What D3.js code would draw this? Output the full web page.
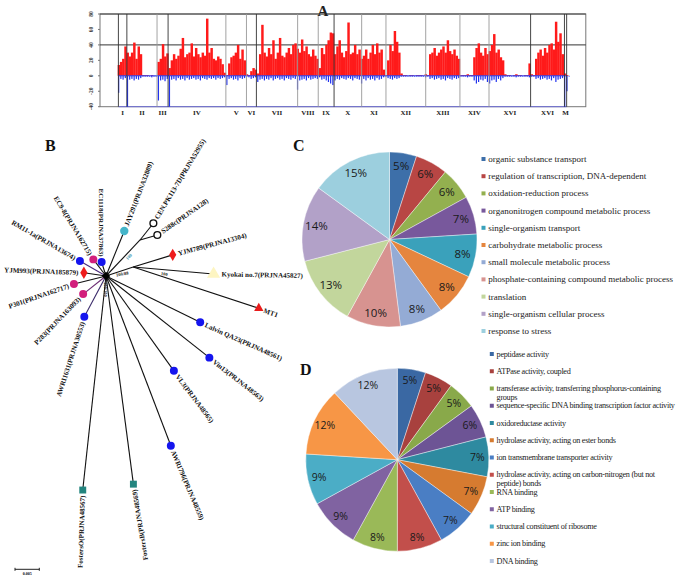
<!DOCTYPE html>
<html><head><meta charset="utf-8">
<script src="https://cdn.jsdelivr.net/npm/d3@7"></script>
<style>body{margin:0;background:#fff}svg{display:block}</style>
</head><body><svg id="c" width="685" height="577"></svg>
<script>
// ---------------- Panel A data ----------------
const chromNames = ["I","II","III","IV","V","VI","VII","VIII","IX","X","XI","XII","XIII","XIV","XVI","XVI","M"];
const chromBounds = [8.33,12.17,25.83,30.83,57,66.33,70.83,89.5,98.83,106,118.5,129.5,147.5,163,176.17,195,210.33,211.33];
const yTicks = [80,60,40,20,0,-20,-40];
const redValues = [
0,0,0,0,0,0,0,0,14,18,22,38,30,25,30,43,22,38,28,1,
1,1,0,1,0,0,18,22,41,25,29,10,20,28,22,26,35,49,24,28,
30,42,25,36,28,24,30,26,74,30,36,22,20,25,22,15,4,1,16,24,
26,30,40,22,34,20,2,1,6,10,8,3,28,66,30,25,36,28,46,22,
30,49,26,24,30,36,28,40,42,35,30,47,32,38,28,25,34,26,22,10,
36,28,40,46,56,55,28,38,46,30,24,32,69,28,30,40,28,34,22,26,
34,22,30,40,28,42,30,34,8,1,20,40,32,58,44,30,3,1,1,0,
1,1,0,1,1,1,0,2,1,28,30,36,26,30,34,38,30,46,32,28,
34,26,22,1,1,1,2,1,1,24,36,42,30,26,36,28,32,40,54,30,
34,24,20,2,1,1,0,1,2,1,1,0,1,1,16,2,1,22,30,34,
26,36,30,40,42,34,70,44,55,28,3,1,0,0,0,0,0,0,0,0];
const blueValues = [
0,0,0,0,0,0,0,0,-22,-4,-5,-3,-40,-5,-4,-6,-4,-5,-3,-1,
-1,-1,-1,-2,-1,-1,-32,-6,-5,-7,-4,-40,-5,-4,-6,-3,-5,-4,-6,-3,
-5,-4,-3,-5,-4,-6,-3,-4,-5,-3,-4,-3,-5,-3,-4,-3,-2,-12,-4,-3,
-5,-4,-6,-3,-4,-3,-1,-2,-4,-3,-2,-8,-5,-4,-6,-4,-5,-3,-6,-4,
-3,-5,-4,-6,-3,-4,-5,-3,-4,-18,-6,-5,-4,-6,-3,-5,-4,-3,-4,-2,
-5,-4,-6,-8,-10,-12,-6,-4,-5,-3,-4,-5,-3,-4,-6,-3,-4,-5,-10,-4,
-6,-3,-5,-4,-6,-3,-5,-4,-2,-1,-3,-4,-5,-3,-4,-3,-1,-1,-1,-1,
-1,-1,-1,-1,-1,-1,-1,-2,-1,-4,-3,-5,-4,-3,-5,-4,-6,-3,-4,-5,
-3,-4,-3,-1,-1,-1,-2,-1,-1,-6,-10,-8,-5,-6,-4,-8,-10,-6,-5,-8,
-4,-6,-3,-1,-1,-1,-1,-1,-2,-1,-1,-1,-1,-1,-2,-1,-1,-4,-3,-5,
-4,-3,-5,-4,-6,-3,-8,-5,-4,-3,-40,-20,-1,0,0,0,0,0,0,0];

// ---------------- Panel B data (tree) ----------------
// branch angle (deg, screen), branch length (substitutions/site)
const treeInternal = [
  {id:"root", parent:null, angle:0, len:0},
  {id:"nCS", parent:"root", angle:-46.6, len:0.0102},
  {id:"nK", parent:"root", angle:-18.4, len:0.0059}
];
const treeLeaves = [
  {name:"JAY291(PRJNA32809)", parent:"root", angle:-67.9, len:0.0100, group:"bioethanol"},
  {name:"CEN.PK113-7D(PRJNA52955)", parent:"nCS", angle:-51.5, len:0.0044, group:"lab"},
  {name:"S288c(PRJNA128)", parent:"nCS", angle:-16.1, len:0.0037, group:"lab"},
  {name:"YJM789(PRJNA13304)", parent:"nK", angle:-17, len:0.0085, group:"clinical"},
  {name:"Kyokai no.7(PRJNA45827)", parent:"nK", angle:5, len:0.0166, group:"sake"},
  {name:"MT1", parent:"nK", angle:18.2, len:0.0272, group:"mt1"},
  {name:"Lalvin QA23(PRJNA48561)", parent:"root", angle:26.2, len:0.0216, group:"wine"},
  {name:"Vin13(PRJNA48563)", parent:"root", angle:38.3, len:0.0271, group:"wine"},
  {name:"VL3(PRJNA48565)", parent:"root", angle:54.4, len:0.0240, group:"wine"},
  {name:"AWRI796(PRJNA48559)", parent:"root", angle:69.1, len:0.0374, group:"wine"},
  {name:"FostersB(PRJNA48569)", parent:"root", angle:82.5, len:0.0432, group:"beer"},
  {name:"FostersO(PRJNA48567)", parent:"root", angle:96.2, len:0.0443, group:"beer"},
  {name:"AWRI1631(PRJNA30553)", parent:"root", angle:118, len:0.0095, group:"wine"},
  {name:"P283(PRJNA163093)", parent:"root", angle:141.6, len:0.0060, group:"other"},
  {name:"P301(PRJNA162717)", parent:"root", angle:166, len:0.0068, group:"other"},
  {name:"YJM993(PRJNA185879)", parent:"root", angle:188.5, len:0.0046, group:"clinical"},
  {name:"RM11-1a(PRJNA13674)", parent:"root", angle:210, len:0.0062, group:"wine"},
  {name:"EC9-8(PRJNA162715)", parent:"root", angle:232.7, len:0.0043, group:"other"},
  {name:"EC1118(PRJNA37863)", parent:"root", angle:252.6, len:0.0030, group:"wine"}
];
const scaleBarValue = 0.005;

// ---------------- Panel C data ----------------
const bpCategories = ["organic substance transport","regulation of transcription, DNA-dependent","oxidation-reduction process","organonitrogen compound metabolic process","single-organism transport","carbohydrate metabolic process","small molecule metabolic process","phosphate-containing compound metabolic process","translation","single-organism cellular process","response to stress"];
const bpValues = [5,6,6,7,8,8,8,10,13,14,15];

// ---------------- Panel D data ----------------
const mfCategories = [["peptidase activity"],["ATPase activity, coupled"],["transferase activity, transferring phosphorus-containing","groups"],["sequence-specific DNA binding transcription factor activity"],["oxidoreductase activity"],["hydrolase activity, acting on ester bonds"],["ion transmembrane transporter activity"],["hydrolase activity, acting on carbon-nitrogen (but not","peptide) bonds"],["RNA binding"],["ATP binding"],["structural constituent of ribosome"],["zinc ion binding"],["DNA binding"]];
const mfValues = [5,5,5,6,7,7,7,8,8,9,9,12,12];

// =====================================================
const svg = d3.select("#c");
svg.append("rect").attr("width",685).attr("height",577).attr("fill","#fff");
const serif = "'Liberation Serif','Times New Roman',serif";
const sans = "'Open Sans','Liberation Sans',sans-serif";

// ---------- Panel A ----------
(function(){
  const g = svg.append("g");
  const x = d3.scaleLinear().domain([0,220]).range([100,585.8]);
  const y = d3.scaleLinear().domain([-40,80]).range([106.7,14]);
  const bw = x(1)-x(0);
  g.append("rect").attr("x",x(0)).attr("y",y(80)).attr("width",x(220)-x(0)).attr("height",y(-40)-y(80))
    .attr("fill","none").attr("stroke","#777").attr("stroke-width",1);
  g.append("line").attr("x1",x(0)).attr("x2",x(220)).attr("y1",y(40)).attr("y2",y(40)).attr("stroke","#333").attr("stroke-width",1);
  g.append("line").attr("x1",x(0)).attr("x2",x(220)).attr("y1",y(80)).attr("y2",y(80)).attr("stroke","#444").attr("stroke-width",1);
  g.append("line").attr("x1",x(chromBounds[0])).attr("x2",x(chromBounds[chromBounds.length-1])).attr("y1",y(-40)).attr("y2",y(-40)).attr("stroke","#6f6fd8").attr("stroke-width",1);
  const red = g.append("g");
  redValues.forEach((v,i)=>{ if(v>0) red.append("rect").attr("x",x(i)).attr("width",bw+0.25).attr("y",y(v)).attr("height",y(0)-y(v)).attr("fill","#ff1a1a"); });
  const blue = g.append("g");
  blueValues.forEach((v,i)=>{ if(v<0) blue.append("rect").attr("x",x(i)+0.4).attr("width",Math.max(0.8,bw-1)).attr("y",y(0)).attr("height",y(v)-y(0)).attr("fill","#2233ee"); });
  g.append("line").attr("x1",x(chromBounds[0])).attr("x2",x(chromBounds[chromBounds.length-1])).attr("y1",y(0)).attr("y2",y(0)).attr("stroke","#2a3ae8").attr("stroke-width",1);
  const dark = new Set([0,1,3,6,9,15,16,17]);
  g.append("g").selectAll("line").data(chromBounds).join("line")
    .attr("x1",d=>x(d)).attr("x2",d=>x(d)).attr("y1",y(80)).attr("y2",y(-40))
    .attr("stroke",(d,i)=>dark.has(i)?"#333":"#9a9a9a").attr("stroke-width",1).attr("opacity",0.9);
  g.append("g").selectAll("text").data(chromNames).join("text")
    .attr("x",(d,i)=>x((chromBounds[i]+chromBounds[i+1])/2)).attr("y",114.5)
    .attr("text-anchor","middle").attr("font-family",serif).attr("font-weight","bold").attr("font-size",7).attr("fill","#222")
    .text(d=>d);
  g.append("g").selectAll("text").data(yTicks).join("text")
    .attr("transform",d=>`translate(93,${y(d)}) rotate(-90)`).attr("text-anchor","middle")
    .attr("font-family",serif).attr("font-weight","bold").attr("font-size",5.5).attr("fill","#333").text(d=>d);
  g.append("g").selectAll("line").data(yTicks).join("line")
    .attr("x1",x(0)-2).attr("x2",x(0)).attr("y1",d=>y(d)).attr("y2",d=>y(d)).attr("stroke","#777");
  svg.append("text").attr("x",323).attr("y",16).attr("text-anchor","middle").attr("font-family",serif)
    .attr("font-weight","bold").attr("font-size",15).attr("fill","#222").text("A");
})();

// ---------- Panel B ----------
(function(){
  const g = svg.append("g");
  const len = d3.scaleLinear().domain([0,scaleBarValue]).range([0,24.3]);
  const pos = {root:[106,276]};
  const rad = a=>a*Math.PI/180;
  treeInternal.forEach(n=>{ if(n.parent){ const p=pos[n.parent]; pos[n.id]=[p[0]+len(n.len)*Math.cos(rad(n.angle)), p[1]+len(n.len)*Math.sin(rad(n.angle))]; }});
  treeLeaves.forEach(n=>{ const p=pos[n.parent]; n.x=p[0]+len(n.len)*Math.cos(rad(n.angle)); n.y=p[1]+len(n.len)*Math.sin(rad(n.angle)); n.px=p[0]; n.py=p[1]; });
  const branchColor = {"RM11-1a(PRJNA13674)":"#4a2a7a","P283(PRJNA163093)":"#6a2a70","AWRI1631(PRJNA30553)":"#3a2a6a"};
  treeInternal.filter(n=>n.parent).forEach(n=>{
    g.append("line").attr("x1",pos[n.parent][0]).attr("y1",pos[n.parent][1]).attr("x2",pos[n.id][0]).attr("y2",pos[n.id][1]).attr("stroke","#111").attr("stroke-width",1.1);
  });
  g.selectAll("line.leaf").data(treeLeaves).join("line").attr("class","leaf")
    .attr("x1",d=>d.px).attr("y1",d=>d.py).attr("x2",d=>d.x).attr("y2",d=>d.y)
    .attr("stroke",d=>branchColor[d.name]||"#111").attr("stroke-width",1.1);
  g.append("rect").attr("x",pos.root[0]-3).attr("y",pos.root[1]-3).attr("width",6).attr("height",6).attr("fill","#000").attr("transform",`rotate(45,${pos.root[0]},${pos.root[1]})`);
  const style = {
    bioethanol:{shape:d3.symbolCircle,size:55,fill:"#45b5c9",stroke:"none"},
    lab:{shape:d3.symbolCircle,size:36,fill:"#fff",stroke:"#111"},
    clinical:{shape:d3.symbolDiamond,size:45,fill:"#ee1c1c",stroke:"none"},
    sake:{shape:d3.symbolTriangle,size:75,fill:"#fdf5c2",stroke:"none"},
    mt1:{shape:d3.symbolTriangle,size:38,fill:"#e81b1b",stroke:"none"},
    wine:{shape:d3.symbolCircle,size:50,fill:"#1515ee",stroke:"none"},
    beer:{shape:d3.symbolSquare,size:48,fill:"#23857f",stroke:"none"},
    other:{shape:d3.symbolCircle,size:50,fill:"#d21f7c",stroke:"none"}
  };
  g.selectAll("path.mk").data(treeLeaves).join("path").attr("class","mk")
    .attr("d",d=>d3.symbol().type(style[d.group].shape).size(style[d.group].size)())
    .attr("transform",d=>`translate(${d.x},${d.y})`)
    .attr("fill",d=>style[d.group].fill).attr("stroke",d=>style[d.group].stroke).attr("stroke-width",1.4);
  const labelAngle = {"JAY291(PRJNA32809)":-69,"CEN.PK113-7D(PRJNA52955)":-59,"S288c(PRJNA128)":-35,"YJM789(PRJNA13304)":-15,
    "Kyokai no.7(PRJNA45827)":1,"MT1":20,"Lalvin QA23(PRJNA48561)":24,"Vin13(PRJNA48563)":38,"VL3(PRJNA48565)":53,
    "AWRI796(PRJNA48559)":67,"FostersB(PRJNA48569)":81,"FostersO(PRJNA48567)":92,"AWRI1631(PRJNA30553)":108,
    "P283(PRJNA163093)":134,"P301(PRJNA162717)":161,"YJM993(PRJNA185879)":182,"RM11-1a(PRJNA13674)":210,
    "EC9-8(PRJNA162715)":239,"EC1118(PRJNA37863)":270};
  g.selectAll("text.lb").data(treeLeaves).join("text").attr("class","lb")
    .each(function(d){
      const a = labelAngle[d.name];
      const flip = a>75 && a<285;
      const off = d.group==="sake"?8:5.5;
      const tx = d.x+off*Math.cos(rad(a)), ty = d.y+off*Math.sin(rad(a));
      d3.select(this).attr("transform",`translate(${tx},${ty}) rotate(${flip?a-180:a})`)
        .attr("text-anchor",flip?"end":"start").attr("dy","0.35em");
    })
    .attr("font-family",serif).attr("font-weight","bold").attr("font-size",7).attr("fill","#111").text(d=>d.name);
  const mid=(a,b,t)=>[a[0]+(b[0]-a[0])*t,a[1]+(b[1]-a[1])*t];
  const m1 = mid(pos.root,pos.nCS,0.55);
  g.append("text").attr("transform",`translate(${m1[0]+3},${m1[1]+4}) rotate(-47)`).attr("font-family",serif).attr("font-size",4.5).attr("font-weight","bold").attr("fill","#2a8aa8").text("100");
  const m2 = mid(pos.root,pos.nK,0.6);
  g.append("text").attr("transform",`translate(${m2[0]-6},${m2[1]+6}) rotate(-10)`).attr("font-family",serif).attr("font-size",4.5).attr("font-weight","bold").attr("fill","#111").text("100/88");
  const mt = treeLeaves.find(d=>d.name==="MT1");
  const m3 = mid(pos.nK,[mt.x,mt.y],0.22);
  g.append("text").attr("transform",`translate(${m3[0]},${m3[1]-1}) rotate(8)`).attr("font-family",serif).attr("font-size",4.5).attr("font-weight","bold").attr("fill","#111").text("100");
  g.append("text").attr("transform",`translate(${pos.root[0]-2},${pos.root[1]+6}) rotate(90)`).attr("font-family",serif).attr("font-size",4.5).attr("font-weight","bold").attr("fill","#111").text("100/100");
  const sb = g.append("g").attr("transform","translate(15,569.3)");
  sb.append("line").attr("x1",0).attr("x2",len(scaleBarValue)).attr("stroke","#222");
  sb.append("line").attr("x1",0).attr("x2",0).attr("y1",-1.5).attr("y2",1.5).attr("stroke","#222");
  sb.append("line").attr("x1",len(scaleBarValue)).attr("x2",len(scaleBarValue)).attr("y1",-1.5).attr("y2",1.5).attr("stroke","#222");
  sb.append("text").attr("x",len(scaleBarValue)/2).attr("y",6).attr("text-anchor","middle").attr("font-family",serif).attr("font-weight","bold").attr("font-size",4).text(scaleBarValue.toFixed(3));
  svg.append("text").attr("x",45).attr("y",150.5).attr("font-family",serif).attr("font-weight","bold").attr("font-size",16).attr("fill","#111").text("B");
})();

// ---------- Pie helper ----------
function drawPie(opts){
  const g = svg.append("g").attr("transform",`translate(${opts.cx},${opts.cy})`);
  const pie = d3.pie().sort(null).value(d=>d)(opts.values);
  const arc = d3.arc().innerRadius(0).outerRadius(opts.r);
  const lab = d3.arc().innerRadius(opts.r*opts.lr).outerRadius(opts.r*opts.lr);
  g.selectAll("path").data(pie).join("path").attr("d",arc).attr("fill",(d,i)=>opts.colors[i]).attr("stroke","#fff").attr("stroke-width",0.4);
  g.selectAll("text").data(pie).join("text")
    .attr("transform",d=>`translate(${lab.centroid(d)})`).attr("text-anchor","middle").attr("dy","0.36em")
    .attr("font-family",sans).attr("font-size",opts.fs).attr("fill","#1a1a1a").text(d=>d.data+"%");
  const lg = svg.append("g");
  opts.cats.forEach((c,i)=>{
    const yy = opts.ly0 + i*opts.lstep;
    lg.append("rect").attr("x",opts.lx).attr("y",yy-2).attr("width",4).attr("height",4).attr("fill",opts.colors[i]);
    const lines = Array.isArray(c)?c:[c];
    lines.forEach((t,j)=>{
      lg.append("text").attr("x",opts.lx+6.8).attr("y",yy+j*opts.lh).attr("dy","0.33em")
        .attr("font-family",serif).attr("font-size",opts.lfs).attr("letter-spacing",opts.ls||0).attr("fill","#222").text(t);
    });
  });
}
drawPie({cx:389.5,cy:239.5,r:87.5,lr:0.85,fs:11.5,values:bpValues,cats:bpCategories,
  colors:["#3d6fa9","#b84644","#93b04f","#78589c","#3aa1bb","#e5853e","#94abd5","#d79390","#c2d69c","#b2a1c8","#9ccfde"],
  lx:481.5,ly0:159,lstep:17.2,lfs:9,lh:10});
svg.append("text").attr("x",293).attr("y",150.5).attr("font-family",serif).attr("font-weight","bold").attr("font-size",16).attr("fill","#111").text("C");
drawPie({cx:397.3,cy:459.7,r:91.5,lr:0.875,fs:10.5,values:mfValues,cats:mfCategories,
  colors:["#3a68a3","#a8413e","#89a94a","#6d5495","#2e8aa0","#d67b30","#4a7ec4","#c24f4b","#9ab958","#8063a1","#4badc6","#f79646","#b8c6e0"],
  lx:489.8,ly0:354,lstep:17.25,lfs:8.2,lh:8.4,ls:-0.3});
svg.append("text").attr("x",300).attr("y",375).attr("font-family",serif).attr("font-weight","bold").attr("font-size",16).attr("fill","#111").text("D");
</script></body></html>
